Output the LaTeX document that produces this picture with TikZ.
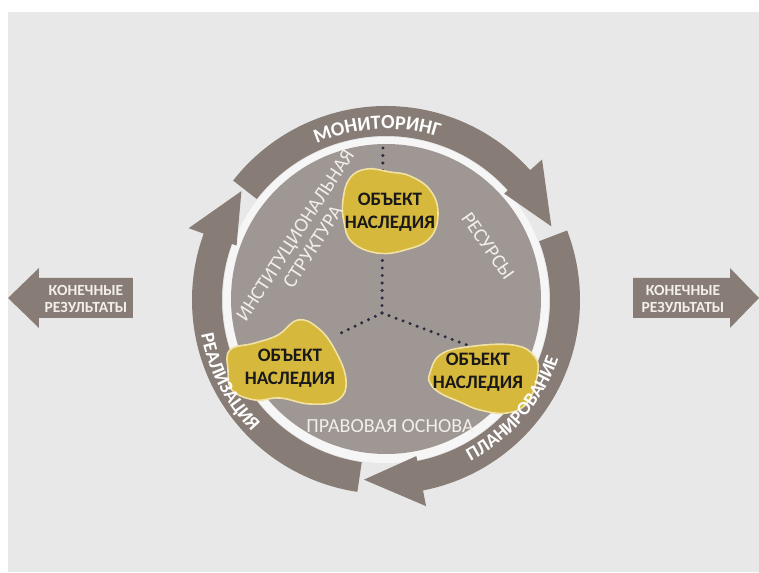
\documentclass[tikz,border=0pt]{standalone}
\usepackage{fontspec}
\setmainfont{Carlito}
\usetikzlibrary{calc}
\usetikzlibrary{decorations.text}

\definecolor{bandgray}{HTML}{877D76}
\definecolor{diskgray}{HTML}{9F9793}
\definecolor{bggray}{HTML}{E8E8E8}
\definecolor{halo}{HTML}{F6F6F6}
\definecolor{blobyellow}{HTML}{D6B83C}
\definecolor{blobedge}{HTML}{F1E2A4}
\definecolor{dotcol}{HTML}{2E2C40}
\definecolor{paletext}{HTML}{F2EEEA}

\newcommand{\ringarrow}[3]{%
  \fill[bandgray] (#1:164) arc[start angle=#1, end angle=#2, radius=164]
    -- (#2:159) -- (#3:181) -- (#2:210) -- (#2:194)
    arc[start angle=#2, end angle=#1, radius=194] -- cycle;}

\begin{document}
\begin{tikzpicture}[x=1pt, y=1pt,
    blob/.style={fill=blobyellow, draw=blobedge, line width=1.6pt},
    dotline/.style={dotcol, line width=3.4pt, line cap=round, dash pattern=on 0pt off 7.5pt},
    objtext/.style={align=center, font=\fontsize{19}{23}\selectfont\bfseries, text=black!90},
    inlabel/.style={align=center, text=paletext, font=\fontsize{20}{21}\selectfont},
    sidetext/.style={align=center, text=paletext, font=\fontsize{15.5}{17}\selectfont\bfseries},
    bandtext/.style={decorate, decoration={text along path, text align=center, text color=white, text={#1}}}]
                \useasboundingbox (-386,-272) rectangle (373,300);
                \fill[white] (-386,-272) rectangle (373,300);
                \fill[bggray] (-378,-272) rectangle (373,288);
                \fill[halo] (0,0) circle[radius=163];
                \fill[diskgray] (0,1) circle[radius=155];
                \ringarrow{142}{42}{24}
                \ringarrow{21}{-79}{-97}
                \ringarrow{261.5}{160}{143}
                \coordinate (hub) at (-4,-13);
                \coordinate (topend) at (-3,157);
                \coordinate (leftend) at (-49,-35);
                \coordinate (rightend) at (81,-45);
                \draw[dotline] (hub) -- (topend);
                \draw[dotline] (hub) -- (leftend);
                \draw[dotline] (hub) -- (rightend);
                \draw[blob] plot[smooth cycle, tension=0.7] coordinates {(-43,100) (-36,122) (-19,131) (4,128) (24,124) (44,110) (52,87) (44,62) (19,50) (-9,47) (-34,58) (-42,78)};
                \draw[blob] plot[smooth cycle, tension=0.7] coordinates {(-156,-50) (-131,-43) (-108,-35) (-88,-20) (-68,-28) (-51,-50) (-40,-80) (-48,-100) (-76,-104) (-106,-98) (-131,-100) (-154,-90) (-158,-70)};
                \draw[blob] plot[smooth cycle, tension=0.7] coordinates {(44,-73) (54,-55) (81,-47) (127,-45) (149,-57) (151,-77) (141,-103) (121,-113) (94,-110) (74,-102) (54,-93) (44,-83)};
                \node[objtext] (objTop) at (4,88) {ОБЪЕКТ\\НАСЛЕДИЯ};
                \node[objtext] (objLeft) at (-96,-68) {ОБЪЕКТ\\НАСЛЕДИЯ};
                \node[objtext] (objRight) at (92,-72) {ОБЪЕКТ\\НАСЛЕДИЯ};
                \node[inlabel, rotate=57] (instLabel) at (-82,59) {ИНСТИТУЦИОНАЛЬНАЯ\\СТРУКТУРА};
                \node[inlabel, rotate=-55] (resLabel) at (102,54) {РЕСУРСЫ};
                \node[inlabel] (lawLabel) at (4,-126) {ПРАВОВАЯ ОСНОВА};
                \path[bandtext={|\fontsize{20}{20}\selectfont\bfseries|МОНИТОРИНГ}] (135:171) arc[start angle=135, end angle=51, radius=171];
                \path[bandtext={|\fontsize{19}{19}\selectfont\bfseries|РЕАЛИЗАЦИЯ}] (180:188) arc[start angle=180, end angle=235, radius=188];
                \path[bandtext={|\fontsize{19}{19}\selectfont\bfseries|ПЛАНИРОВАНИЕ}] (290:182) arc[start angle=290, end angle=349, radius=182];
                \fill[bandgray] (-253,22) -- (-347,22) -- (-347,32) -- (-378,2) -- (-347,-28) -- (-347,-18) -- (-253,-18) -- cycle;
                \fill[bandgray] (247,22) -- (344,22) -- (344,32) -- (373,2) -- (344,-28) -- (344,-18) -- (247,-18) -- cycle;
                \node[sidetext] (outLeft) at (-300,1) {КОНЕЧНЫЕ\\РЕЗУЛЬТАТЫ};
                \node[sidetext] (outRight) at (297,1) {КОНЕЧНЫЕ\\РЕЗУЛЬТАТЫ};
            \end{tikzpicture}
\end{document}
